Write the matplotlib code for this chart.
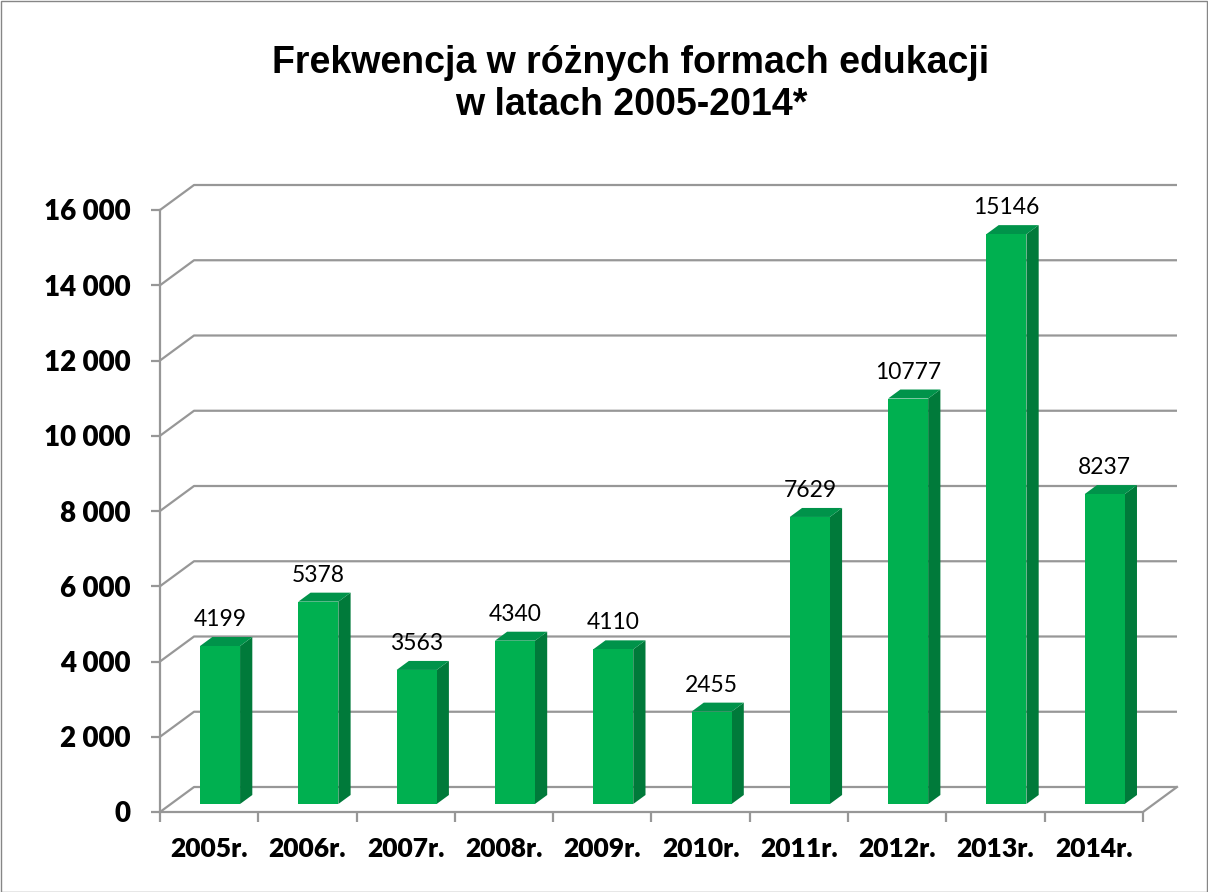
import matplotlib
matplotlib.use("Agg")
import matplotlib.pyplot as plt
import matplotlib.patches as patches
from matplotlib.patches import Polygon

# chart data
years = ['2005r.', '2006r.', '2007r.', '2008r.', '2009r.',
         '2010r.', '2011r.', '2012r.', '2013r.', '2014r.']
attendance = [4199, 5378, 3563, 4340, 4110, 2455, 7629, 10777, 15146, 8237]
y_ticks = [0, 2000, 4000, 6000, 8000, 10000, 12000, 14000, 16000]
title = 'Frekwencja w różnych formach edukacji\nw latach 2005-2014*'

W, H = 1208, 892
fig = plt.figure(figsize=(W / 100, H / 100), dpi=100)

# figure frame
fig.patches.append(patches.Rectangle((0.5 / W, 0.5 / H), 1 - 1.5 / W, 1 - 1.5 / H,
                                     transform=fig.transFigure, fill=False,
                                     edgecolor='#868686', linewidth=1.0))

# plot area in pixels (front plane + depth of the 3d box)
left_px, right_px, bottom_px, top_px = 160, 1177, 812, 185
ax = fig.add_axes([left_px / W, (H - bottom_px) / H,
                   (right_px - left_px) / W, (bottom_px - top_px) / H])

n = len(years)
cat_px = (1142 - left_px) / n          # pixels per category
val_px = (812 - 210) / 16000.0         # pixels per unit value
DX = 34 / cat_px                       # depth offset in data units
DY = 25 / val_px

ax.set_xlim(-0.5, n - 0.5 + DX)
ax.set_ylim(0, (bottom_px - top_px) / val_px)
for s in ax.spines.values():
    s.set_visible(False)
ax.patch.set_visible(False)

GRID = '#979797'
LW = 1.6

# walls: gridlines on back wall and side wall diagonals
for v in y_ticks:
    ax.plot([-0.5, -0.5 + DX, n - 0.5 + DX], [v, v + DY, v + DY],
            color=GRID, lw=LW, clip_on=False, zorder=1, solid_capstyle='butt')
# floor front edge and right diagonal
ax.plot([-0.5, n - 0.5, n - 0.5 + DX], [0, 0, DY],
        color=GRID, lw=LW, clip_on=False, zorder=1)
# front vertical axis
ax.plot([-0.5, -0.5], [0, y_ticks[-1]], color=GRID, lw=LW, clip_on=False, zorder=1)

# bars as 3d boxes
FRONT, TOP, SIDE = '#00B050', '#00934A', '#007A3A'
f0 = 0.32      # bar position in depth
fd = 0.36      # bar depth
half = 20 / cat_px
for i, v in enumerate(attendance):
    cx = i + f0 * DX
    x0, x1 = cx - half, cx + half
    y0 = f0 * DY
    y1 = y0 + v
    ddx, ddy = fd * DX, fd * DY
    ax.add_patch(Polygon([(x1, y0), (x1 + ddx, y0 + ddy), (x1 + ddx, y1 + ddy), (x1, y1)],
                         closed=True, facecolor=SIDE, edgecolor='none', zorder=3))
    ax.add_patch(Polygon([(x0, y1), (x1, y1), (x1 + ddx, y1 + ddy), (x0 + ddx, y1 + ddy)],
                         closed=True, facecolor=TOP, edgecolor='none', zorder=3))
    ax.add_patch(Polygon([(x0, y0), (x1, y0), (x1, y1), (x0, y1)],
                         closed=True, facecolor=FRONT, edgecolor='none', zorder=4))
    ax.annotate(str(v), xy=(cx, y1 + ddy), xytext=(0, 5), textcoords='offset points',
                ha='center', va='bottom', fontsize=16.5, family='Lato', color='black',
                zorder=5)

# y axis ticks
ax.set_yticks(y_ticks)
ax.set_yticklabels([f'{v:,}'.replace(',', ' ') for v in y_ticks],
                   fontsize=20, family='Lato', fontweight='heavy')
ax.tick_params(axis='y', length=6.5, width=LW, color=GRID, pad=15)

# x axis ticks: marks at boundaries, labels at centers
ax.set_xticks([i - 0.5 for i in range(n + 1)])
ax.set_xticklabels([])
ax.set_xticks(range(n), minor=True)
ax.set_xticklabels(years, minor=True, fontsize=19, family='Lato', fontweight='heavy')
ax.tick_params(axis='x', which='major', length=7, width=LW, color=GRID)
ax.tick_params(axis='x', which='minor', length=0, pad=18)

fig.text(631 / W, 1 - 84 / H, title, ha='center', va='center', fontsize=27,
         family='Liberation Sans', fontweight='bold', linespacing=1.18)

fig.savefig('out.png', dpi=100)
